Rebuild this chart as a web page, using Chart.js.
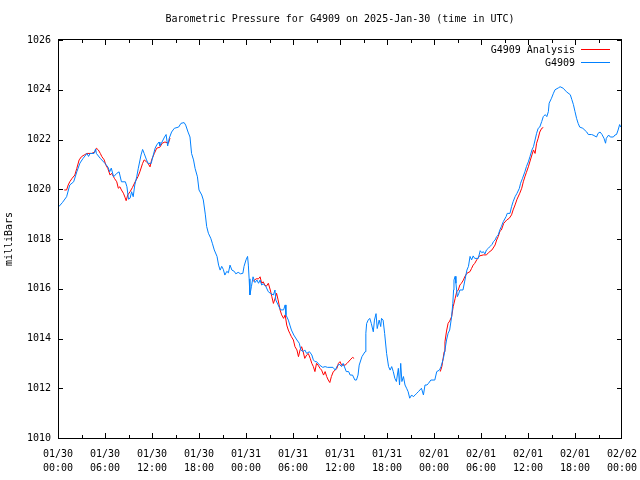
<!DOCTYPE html>
<html>
<head>
<meta charset="utf-8">
<script src="https://cdn.jsdelivr.net/npm/chart.js@4.4.1/dist/chart.umd.min.js"></script>
<style>html,body{margin:0;padding:0;background:#fff}</style>
</head>
<body>
<canvas id="pressure" width="640" height="480"></canvas>
<script>
// hours since 2025-01-30 00:00 UTC
const stationHours = [
    0.1, 0.55, 1.1, 1.5, 2.0, 2.4, 2.8, 3.2, 3.7, 3.9, 4.1, 4.6, 4.8, 4.9, 5.4, 6.0, 6.4, 6.6, 6.8, 7.1,
    7.5, 7.8, 8.1, 8.6, 8.8, 9.0, 9.2, 9.4, 9.6, 9.8, 10.05, 10.25, 10.6, 10.8, 11.0, 11.3, 11.5, 11.9, 12.1, 12.4,
    12.6, 12.9, 13.0, 13.2, 13.6, 13.8, 14.0, 14.2, 14.5, 14.85, 15.4, 15.7, 16.1, 16.3, 16.6, 16.85, 17.05, 17.3, 17.5, 17.8,
    18.0, 18.35, 18.55, 18.8, 18.98, 19.2, 19.5, 19.7, 19.95, 20.3, 20.5, 20.7, 20.9, 21.1, 21.3, 21.55, 21.75, 21.96, 22.2, 22.5,
    22.7, 23.0, 23.3, 23.6, 23.75, 24.0, 24.2, 24.3, 24.4, 24.5, 24.7, 24.9, 25.15, 25.4, 25.6, 25.8, 26.0, 26.2, 26.55, 26.85,
    27.1, 27.5, 27.7, 27.8, 28.1, 28.4, 28.8, 29.0, 29.1, 29.4, 29.6, 29.8, 30.1, 30.5, 30.8, 31.0, 31.3, 31.5, 31.75, 32.1,
    32.4, 32.6, 32.8, 33.0, 33.4, 33.8, 34.1, 34.4, 35.1, 35.4, 35.6, 35.9, 36.2, 36.4, 36.8, 37.1, 37.3, 37.6, 37.9, 38.1,
    38.3, 38.45, 38.8, 39.2, 39.3, 39.4, 39.6, 39.8, 40.0, 40.25, 40.4, 40.6, 40.75, 41.0, 41.2, 41.3, 41.5, 41.7, 41.95, 42.2,
    42.4, 42.6, 42.8, 43.0, 43.2, 43.45, 43.6, 43.75, 43.9, 44.1, 44.3, 44.5, 44.7, 44.9, 45.15, 45.35, 45.6, 45.8, 46.0, 46.2,
    46.4, 46.65, 46.85, 47.1, 47.3, 47.6, 48.1, 48.35, 48.7, 48.9, 49.2, 49.4, 49.6, 49.8, 50.0, 50.25, 50.4, 50.5, 50.55, 50.7,
    50.8, 50.98, 51.15, 51.3, 51.7, 51.95, 52.2, 52.4, 52.6, 52.8, 53.0, 53.2, 53.65, 53.9, 54.1, 54.3, 54.5, 54.7, 54.95, 55.15,
    55.4, 55.6, 55.8, 56.0, 56.2, 56.4, 56.6, 56.85, 57.2, 57.35, 57.7, 57.9, 58.1, 58.35, 58.6, 58.9, 59.05, 59.3, 59.6, 59.8,
    60.04, 60.25, 60.5, 60.7, 60.9, 61.1, 61.3, 61.5, 61.75, 61.95, 62.2, 62.4, 62.6, 62.7, 63.0, 63.25, 63.45, 63.9, 64.1, 64.5,
    64.9, 65.4, 65.6, 65.8, 66.0, 66.2, 66.4, 66.6, 67.0, 67.5, 67.7, 68.1, 68.3, 68.75, 68.95, 69.2, 69.45, 69.7, 69.9, 70.0,
    70.3, 70.5, 70.9, 71.1, 71.3, 71.5, 71.7, 71.85
];
const stationPressure = [
    1019.30, 1019.46, 1019.70, 1020.17, 1020.30, 1020.70, 1021.05, 1021.24, 1021.44, 1021.32, 1021.44, 1021.44, 1021.62, 1021.44, 1021.24, 1021.04, 1020.88, 1020.70, 1020.85, 1020.50,
    1020.64, 1020.70, 1020.30, 1020.30, 1020.10, 1019.60, 1019.64, 1019.90, 1019.70, 1020.17, 1020.50, 1020.84, 1021.38, 1021.60, 1021.44, 1021.18, 1021.04, 1021.04, 1021.30, 1021.65,
    1021.78, 1021.90, 1021.75, 1021.85, 1022.10, 1022.20, 1021.74, 1022.05, 1022.30, 1022.45, 1022.50, 1022.65, 1022.68, 1022.58, 1022.30, 1022.10, 1021.44, 1021.18, 1020.84, 1020.50,
    1019.97, 1019.77, 1019.57, 1019.00, 1018.50, 1018.23, 1018.03, 1017.83, 1017.56, 1017.30, 1016.95, 1016.75, 1016.90, 1016.78, 1016.55, 1016.70, 1016.64, 1016.95, 1016.75, 1016.70,
    1016.60, 1016.66, 1016.60, 1016.62, 1016.90, 1017.16, 1017.30, 1016.95, 1016.40, 1015.75, 1016.10, 1016.48, 1016.25, 1016.35, 1016.22, 1016.35, 1016.15, 1016.20, 1016.08, 1015.88,
    1015.82, 1015.75, 1015.95, 1015.55, 1015.35, 1015.15, 1015.15, 1015.35, 1014.95, 1014.74, 1014.54, 1014.34, 1014.14, 1013.94, 1013.81, 1013.54, 1013.47, 1013.54, 1013.40, 1013.47,
    1013.34, 1013.14, 1013.07, 1013.07, 1012.93, 1012.84, 1012.87, 1012.84, 1012.84, 1012.73, 1012.87, 1012.97, 1012.87, 1013.00, 1012.67, 1012.67, 1012.53, 1012.53, 1012.33, 1012.33,
    1012.53, 1012.93, 1013.27, 1013.47, 1014.21, 1014.60, 1014.74, 1014.81, 1014.60, 1014.27, 1014.74, 1015.00, 1014.40, 1014.74, 1014.48, 1014.81, 1014.74, 1014.20, 1013.40, 1012.87,
    1012.73, 1012.87, 1012.67, 1012.40, 1012.27, 1012.80, 1012.13, 1013.00, 1012.27, 1012.47, 1012.13, 1012.00, 1011.86, 1011.60, 1011.73, 1011.66, 1011.73, 1011.80, 1011.86, 1011.93,
    1012.00, 1011.73, 1012.13, 1012.13, 1012.20, 1012.33, 1012.33, 1012.67, 1012.73, 1012.87, 1013.20, 1013.54, 1013.94, 1014.21, 1014.34, 1014.88, 1015.41, 1015.95, 1016.35, 1016.50,
    1016.22, 1015.68, 1015.80, 1015.95, 1015.95, 1016.35, 1016.75, 1016.90, 1017.30, 1017.16, 1017.32, 1017.22, 1017.22, 1017.53, 1017.45, 1017.49, 1017.40, 1017.56, 1017.63, 1017.70,
    1017.78, 1017.90, 1017.96, 1018.10, 1018.16, 1018.36, 1018.50, 1018.70, 1018.90, 1019.03, 1019.03, 1019.30, 1019.50, 1019.70, 1019.84, 1020.04, 1020.24, 1020.44, 1020.70, 1020.91,
    1021.10, 1021.31, 1021.58, 1021.71, 1021.98, 1022.25, 1022.45, 1022.50, 1022.72, 1022.92, 1023.00, 1022.92, 1023.12, 1023.46, 1023.66, 1023.86, 1024.00, 1024.08, 1024.12, 1024.06,
    1023.92, 1023.80, 1023.60, 1023.40, 1023.12, 1022.85, 1022.65, 1022.50, 1022.45, 1022.30, 1022.20, 1022.20, 1022.18, 1022.10, 1022.25, 1022.30, 1022.20, 1022.05, 1021.85, 1022.05,
    1022.18, 1022.10, 1022.10, 1022.18, 1022.20, 1022.38, 1022.60, 1022.50
];

// analysis runs in three pieces, null marks the breaks
const analysisHours = [
    0.8, 1.1, 1.3, 1.5, 1.8, 2.15, 2.4, 2.7, 3.0, 3.35, 3.7, 4.3, 4.7, 4.9, 5.15, 5.4, 5.6, 5.9, 6.1, 6.35,
    6.65, 6.85, 7.2, 7.5, 7.7, 7.9, 8.1, 8.35, 8.55, 8.7, 8.9, 9.2, 9.5, 9.85, 10.2, 10.45, 10.8, 11.0, 11.3, 11.5,
    11.75, 11.95, 12.3, 12.6, 13.0, 13.3, 13.65, 14.1, 14.3,
    19,
    24.9, 25.3, 25.6, 25.8, 26.0, 26.2, 26.4, 26.6, 26.85, 27.1, 27.3, 27.5, 27.7, 27.9, 28.1, 28.35, 28.55, 28.8, 29.0, 29.2,
    29.4, 29.6, 29.8, 30.05, 30.25, 30.5, 30.7, 30.9, 31.1, 31.3, 31.5, 31.75, 31.95, 32.2, 32.4, 32.6, 32.8, 33.0, 33.2, 33.45,
    33.65, 33.9, 34.1, 34.3, 34.5, 34.7, 34.9, 35.15, 35.4, 35.6, 35.8, 36.0, 36.2, 36.65, 36.9, 37.3, 37.6, 37.8,
    43,
    48.8, 49.0, 49.1, 49.3, 49.4, 49.6, 49.8, 50.0, 50.25, 50.45, 50.7, 50.9, 51.1, 51.3, 51.5, 51.75, 51.95, 52.2, 52.6, 52.8,
    53.0, 53.2, 53.45, 53.8, 54.3, 54.7, 54.95, 55.4, 55.8, 56.0, 56.2, 56.4, 56.6, 56.9, 57.3, 57.6, 57.9, 58.1, 58.35, 58.6,
    58.95, 59.2, 59.4, 59.6, 59.8, 60.04, 60.5, 60.7, 60.9, 61.1, 61.3, 61.5, 61.75, 61.95
];
const analysisPressure = [
    1019.97, 1019.97, 1020.17, 1020.30, 1020.44, 1020.57, 1020.84, 1021.18, 1021.31, 1021.38, 1021.44, 1021.44, 1021.50, 1021.65, 1021.58, 1021.44, 1021.31, 1021.18, 1020.98, 1020.84,
    1020.57, 1020.64, 1020.44, 1020.30, 1020.04, 1020.10, 1019.97, 1019.84, 1019.68, 1019.54, 1019.77, 1019.90, 1020.07, 1020.30, 1020.50, 1020.70, 1021.04, 1021.18, 1021.10, 1021.04,
    1020.90, 1021.18, 1021.44, 1021.65, 1021.69, 1021.85, 1021.90, 1021.85, 1022.06,
    null,
    1016.30, 1016.40, 1016.40, 1016.48, 1016.22, 1016.28, 1016.15, 1016.10, 1016.22, 1015.95, 1015.68, 1015.41, 1015.60, 1015.82, 1015.55, 1015.15, 1014.95, 1014.81, 1014.95, 1014.54,
    1014.34, 1014.20, 1014.07, 1013.94, 1013.67, 1013.54, 1013.27, 1013.54, 1013.67, 1013.47, 1013.20, 1013.34, 1013.40, 1013.20, 1013.00, 1012.87, 1012.67, 1013.00, 1012.93, 1012.80,
    1012.73, 1012.53, 1012.67, 1012.47, 1012.33, 1012.23, 1012.47, 1012.67, 1012.73, 1012.80, 1013.00, 1013.07, 1012.93, 1012.93, 1013.00, 1013.14, 1013.24, 1013.20,
    null,
    1012.67, 1012.87, 1013.07, 1013.47, 1013.87, 1014.30, 1014.61, 1014.70, 1014.88, 1015.28, 1015.61, 1015.88, 1015.95, 1016.15, 1016.22, 1016.35, 1016.50, 1016.62, 1016.69, 1016.82,
    1016.95, 1017.02, 1017.16, 1017.32, 1017.36, 1017.36, 1017.45, 1017.56, 1017.76, 1017.96, 1018.10, 1018.30, 1018.36, 1018.63, 1018.77, 1018.83, 1018.97, 1019.17, 1019.37, 1019.60,
    1019.84, 1020.04, 1020.30, 1020.50, 1020.68, 1020.90, 1021.38, 1021.58, 1021.44, 1021.85, 1022.05, 1022.30, 1022.45, 1022.48
];

const xTickLabels = [
    ['01/30', '00:00'], ['01/30', '06:00'], ['01/30', '12:00'], ['01/30', '18:00'],
    ['01/31', '00:00'], ['01/31', '06:00'], ['01/31', '12:00'], ['01/31', '18:00'],
    ['02/01', '00:00'], ['02/01', '06:00'], ['02/01', '12:00'], ['02/01', '18:00'],
    ['02/02', '00:00']
];
const yTickValues = [1010, 1012, 1014, 1016, 1018, 1020, 1022, 1024, 1026];
const seriesNames = ['G4909 Analysis', 'G4909'];
const seriesColors = ['#ff0000', '#0080ff'];

const FONT = "'DejaVu Sans Mono', 'Liberation Mono', monospace";

// gnuplot-style frame with inward ticks, title and legend
const gnuFrame = {
    id: 'gnuFrame',
    afterDraw(chart) {
        const ctx = chart.ctx;
        const ca = chart.chartArea;
        const xs = chart.scales.x, ys = chart.scales.y;
        const l = Math.round(ca.left), r = Math.round(ca.right) - 1;
        const t = Math.round(ca.top) - 1, b = Math.round(ca.bottom);
        ctx.save();
        ctx.fillStyle = '#000';
        ctx.fillRect(l, t, r - l + 1, 1);
        ctx.fillRect(l, b, r - l + 1, 1);
        ctx.fillRect(l, t, 1, b - t + 1);
        ctx.fillRect(r, t, 1, b - t + 1);

        for (let h = 0; h <= 72; h += 3) {
            const px = Math.min(Math.round(xs.getPixelForValue(h)), r);
            const len = h % 6 === 0 ? 5 : 3;
            ctx.fillRect(px, b - len, 1, len);
            ctx.fillRect(px, t, 1, len + 1);
        }
        yTickValues.forEach(v => {
            const py = Math.min(Math.round(ys.getPixelForValue(v)), b);
            ctx.fillRect(l, py, 5, 1);
            ctx.fillRect(r - 4, py, 5, 1);
        });

        ctx.font = '10px ' + FONT;
        ctx.textBaseline = 'middle';
        ctx.textAlign = 'center';
        ctx.fillText('Barometric Pressure for G4909 on 2025-Jan-30 (time in UTC)', (ca.left + ca.right) / 2, 19);

        ctx.textAlign = 'right';
        seriesNames.forEach((name, i) => {
            const y = 50 + i * 13;
            ctx.fillStyle = '#000';
            ctx.fillText(name, 575, y);
            ctx.fillStyle = seriesColors[i];
            ctx.fillRect(581, Math.round(y) - 1, 29, 1);
        });
        ctx.restore();
    }
};

new Chart(document.getElementById('pressure'), {
    type: 'line',
    data: {
        datasets: [
            {
                label: seriesNames[1],
                data: stationHours.map((h, i) => ({ x: h, y: stationPressure[i] })),
                borderColor: seriesColors[1], borderWidth: 1, pointRadius: 0, tension: 0, fill: false, order: 0
            },
            {
                label: seriesNames[0],
                data: analysisHours.map((h, i) => ({ x: h, y: analysisPressure[i] })),
                borderColor: seriesColors[0], borderWidth: 1, pointRadius: 0, tension: 0, fill: false,
                spanGaps: false, order: 1
            }
        ]
    },
    options: {
        responsive: false, animation: false,
        layout: { padding: { left: 0, right: 18, top: 40, bottom: 0 } },
        plugins: { legend: { display: false }, tooltip: { enabled: false }, title: { display: false } },
        scales: {
            x: {
                type: 'linear', min: 0, max: 72,
                grid: { display: false, drawTicks: false }, border: { display: false },
                ticks: {
                    stepSize: 6, autoSkip: false, maxRotation: 0, color: '#000', padding: 9,
                    font: { family: FONT, size: 10, lineHeight: 1.4 },
                    callback: v => xTickLabels[v / 6]
                },
                afterFit: s => { s.height = 42; s.paddingLeft = 0; s.paddingRight = 0; }
            },
            y: {
                min: 1010, max: 1026,
                grid: { display: false, drawTicks: false }, border: { display: false },
                ticks: { stepSize: 2, color: '#000', padding: 7, font: { family: FONT, size: 10 }, callback: v => String(v) },
                title: { display: true, text: 'milliBars', color: '#000', padding: { top: 3, bottom: 0 }, font: { family: FONT, size: 10 } },
                afterFit: s => { s.width = 58; s.paddingTop = 0; s.paddingBottom = 0; }
            }
        }
    },
    plugins: [gnuFrame]
});
</script>
</body>
</html>
